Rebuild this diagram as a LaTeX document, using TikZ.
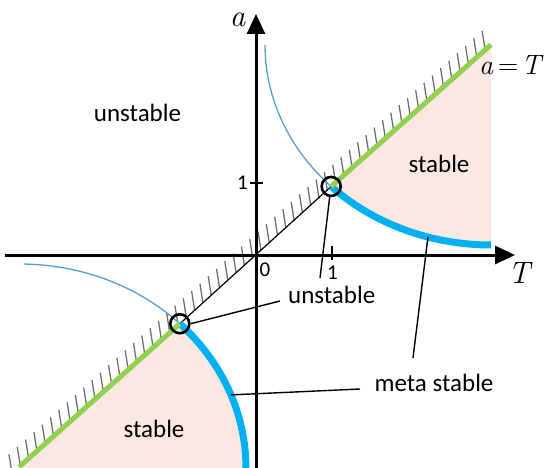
\documentclass[tikz,border=0pt]{standalone}
\usepackage{fontspec}
\setmainfont{Carlito}
\newfontfamily\varfont{Latin Modern Roman}
\usetikzlibrary{arrows.meta,positioning,calc}
\definecolor{ink}{HTML}{000000}
\definecolor{hatchgray}{HTML}{6E6E6E}
\definecolor{thinblue}{HTML}{5B9BD5}
\definecolor{metablue}{HTML}{00B0F0}
\definecolor{stablegreen}{HTML}{92D050}
\definecolor{stablefill}{HTML}{FCE8E2}
\tikzset{
  every node/.style={font=\fontsize{25}{30}\selectfont,text=ink,inner sep=0},
  axis/.style={-{Triangle[length=20pt,width=18pt]},line width=3pt,draw=ink},
  hatchline/.style={line width=1.3pt,draw=hatchgray},
  thinline/.style={line width=1.2pt,draw=ink},
  leader/.style={line width=1.4pt,draw=ink},
  branch/.style={line width=1.3pt,draw=thinblue},
  metabranch/.style={line width=7pt,draw=metablue},
  stablebranch/.style={line width=5pt,draw=stablegreen},
  ring/.style={circle,draw=ink,line width=2.6pt,minimum size=19pt,inner sep=0},
  ticklabel/.style={font=\fontsize{21}{25}\selectfont},
  varlabel/.style={font=\varfont\itshape\fontsize{31}{36}\selectfont,anchor=base}
}

\begin{document}
\begin{tikzpicture}[x=1pt,y=-1pt]
\path[use as bounding box] (0,0) rectangle (551,468);
% a = T line and where the branches meet it
\coordinate (O) at (256,255);
\coordinate (U) at ({491-226*cos(45)},{45+200*sin(45)});
\coordinate (L) at ({20+226*cos(45)},{468-204*sin(45)});
\coordinate (gtop) at (491,44.7);
\coordinate (gbot) at (19,467);
% stable regions
\fill[stablefill] (gtop) -- (U) -- plot[domain=45:90,samples=40] ({491-226*cos(\x)},{45+200*sin(\x)}) -- cycle;
\fill[stablefill] (gbot) -- (L) -- plot[domain=45:0,samples=40] ({20+226*cos(\x)},{468-204*sin(\x)}) -- (19,468) -- cycle;
% hatching along a = T
\foreach \i in {0,...,57}
  \draw[hatchline] ({12+8.3*\i},{255-0.895*(12+8.3*\i-256)}) -- ++(-3,-19);
\draw[thinline] (L) -- (U);
% branches
\draw[branch] plot[domain=0:45,samples=40] ({491-226*cos(\x)},{45+200*sin(\x)});
\draw[branch] plot[domain=89:45,samples=40] ({20+226*cos(\x)},{468-204*sin(\x)});
\draw[metabranch] plot[domain=45:90,samples=40] ({491-226*cos(\x)},{45+200*sin(\x)});
\draw[metabranch] plot[domain=45:0,samples=40] ({20+226*cos(\x)},{468-204*sin(\x)});
\draw[stablebranch] (U) -- (gtop);
\draw[stablebranch] (L) -- (gbot);
% axes
\draw[axis] (5,255) -- (515,255);
\draw[axis] (256,468) -- (256,14);
\draw[line width=1.5pt] (332,246) -- (332,260);
\draw[line width=1.5pt] (250,183) -- (263,183);
\node[ticklabel] (one T) at (332.5,273) {1};
\node[ticklabel] (one a) at (242.5,183) {1};
\node[ticklabel] (zero) at (265,270) {0};
\node[varlabel] (alab) at (237.5,27) {a};
\node[varlabel] (Tlab) at (519,283) {T};
\node[varlabel,anchor=base west,font=\varfont\itshape\fontsize{28}{34}\selectfont] (diag) at (479,75) {a\kern5pt{\upshape=}\kern3pt T};
% fixed points
\node[ring] (ucirc) at (U) {};
\node[ring] (lcirc) at (L) {};
% region labels
\node (unstop) at (137.5,113) {unstable};
\node (stabup) at (439,164) {stable};
\node (stablow) at (154,429) {stable};
\node (unstlow) at (331.7,295) {unstable};
\node (meta) at (434,383) {meta stable};
% leaders
\coordinate (uend) at (320,278);
\coordinate (lend) at (280,301);
\coordinate (mtop) at (413,358);
\coordinate (mleft) at (360,389);
\coordinate (mup) at ({491-226*cos(73.8)},{45+200*sin(73.8)});
\coordinate (mlow) at ({20+226*cos(21)},{468-204*sin(21)});
\draw[leader] (ucirc.262) -- (uend);
\draw[leader] (lcirc.east) -- (lend);
\draw[leader] (mtop) -- (mup);
\draw[leader] (mleft) -- (mlow);
\end{tikzpicture}
\end{document}
